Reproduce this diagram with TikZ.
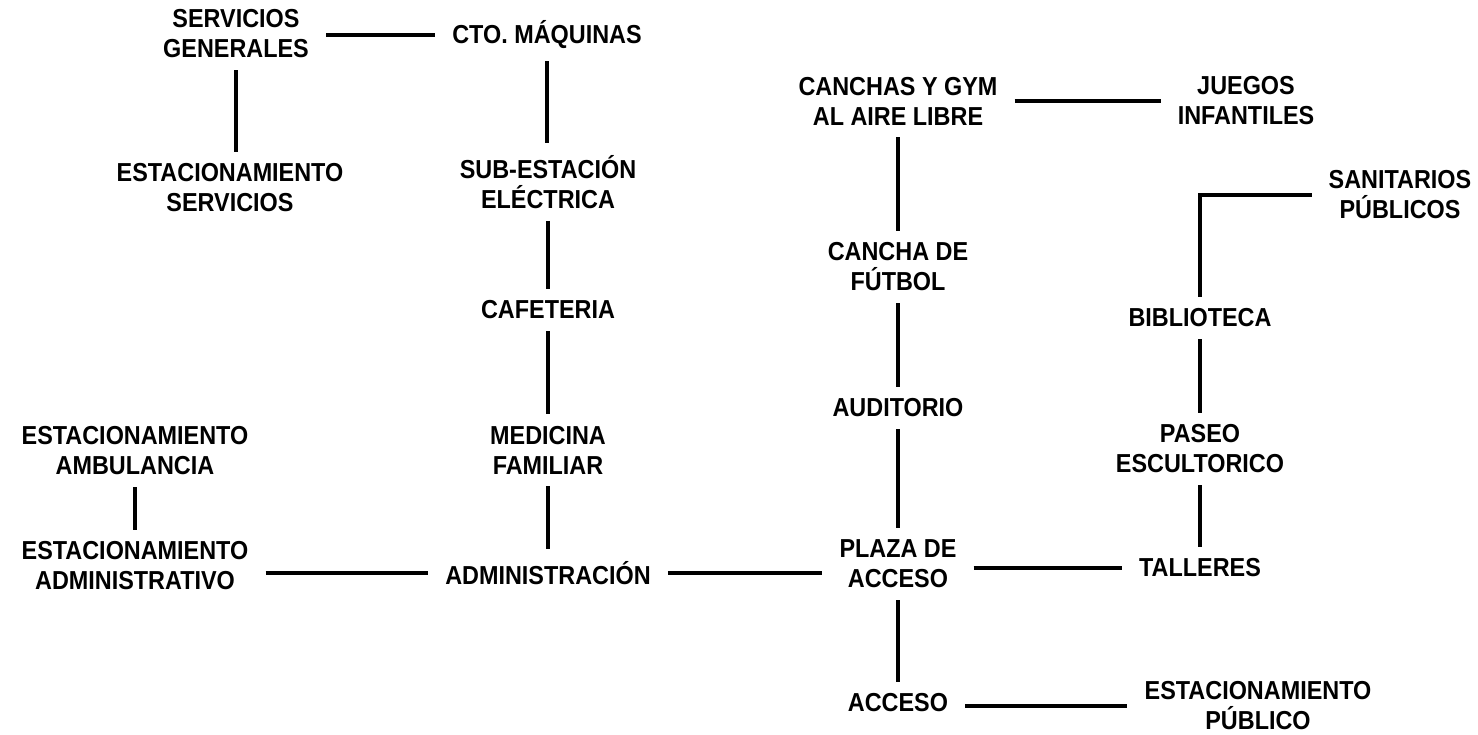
\documentclass[tikz,border=0pt]{standalone}
\usepackage{fontspec}
\setmainfont{Liberation Sans}[FakeStretch=0.9]
\begin{document}
\begin{tikzpicture}[x=1pt,y=-1pt,
  lbl/.style={align=center,font=\fontsize{26}{30}\selectfont\bfseries,inner xsep=17pt,inner ysep=12pt},
  conn/.style={line width=3.2pt}]
\useasboundingbox (0,0) rectangle (1478,735);
\node[lbl] (sg)   at (236,34)  {SERVICIOS\\GENERALES};
\node[lbl] (cto)  at (547,35)  {CTO. MÁQUINAS};
\node[lbl] (es)   at (230,188) {ESTACIONAMIENTO\\SERVICIOS};
\node[lbl] (sub)  at (548,182) {SUB-ESTACIÓN\\ELÉCTRICA};
\node[lbl] (caf)  at (548,310) {CAFETERIA};
\node[lbl] (med)  at (548,450) {MEDICINA\\FAMILIAR};
\node[lbl] (adm)  at (548,573) {ADMINISTRACIÓN};
\node[lbl] (eamb) at (135,451) {ESTACIONAMIENTO\\AMBULANCIA};
\node[lbl] (eadm) at (135,566) {ESTACIONAMIENTO\\ADMINISTRATIVO};
\node[lbl] (can)  at (898,101) {CANCHAS Y GYM\\AL AIRE LIBRE};
\node[lbl] (jue)  at (1246,101) {JUEGOS\\INFANTILES};
\node[lbl] (san)  at (1400,195) {SANITARIOS\\PÚBLICOS};
\node[lbl] (fut)  at (898,267) {CANCHA DE\\FÚTBOL};
\node[lbl] (bib)  at (1200,318) {BIBLIOTECA};
\node[lbl] (aud)  at (898,408) {AUDITORIO};
\node[lbl] (pas)  at (1200,449) {PASEO\\ESCULTORICO};
\node[lbl] (pla)  at (898,564) {PLAZA DE\\ACCESO};
\node[lbl] (tal)  at (1200,568) {TALLERES};
\node[lbl] (acc)  at (898,703) {ACCESO};
\node[lbl] (epub) at (1258,706) {ESTACIONAMIENTO\\PÚBLICO};

\draw[conn] (sg.east |- cto) -- (cto.west);
\draw[conn] (sg.south) -- (sg.south |- es.north);
\draw[conn] (cto.south) -- (cto.south |- sub.north);
\draw[conn] (sub) -- (caf);
\draw[conn] (caf) -- (med);
\draw[conn] (med) -- (adm);
\draw[conn] (eamb) -- (eadm);
\draw[conn] (eadm.east |- adm) -- (adm.west);
\draw[conn] (adm.east) -- (adm.east -| pla.west);
\draw[conn] (can.east) -- (jue.west);
\draw[conn] (can) -- (fut);
\draw[conn] (fut) -- (aud);
\draw[conn] (aud) -- (pla);
\draw[conn] (pla) -- (acc);
\draw[conn] (pla.east |- tal) -- (tal.west);
\draw[conn] (acc.east |- epub) -- (epub.west);
\draw[conn] (san.west) -| (bib.north);
\draw[conn] (bib) -- (pas);
\draw[conn] (pas) -- (tal);
\end{tikzpicture}
\end{document}
